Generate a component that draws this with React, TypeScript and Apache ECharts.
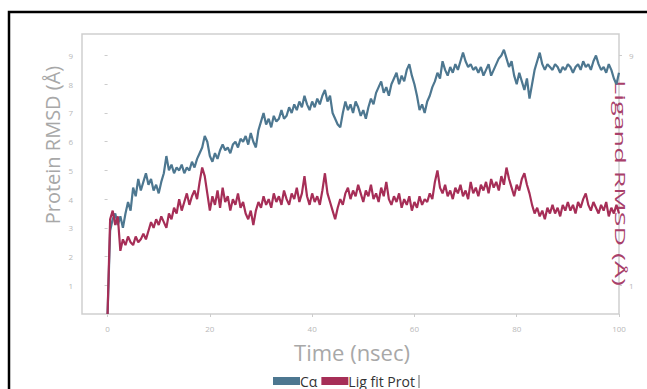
import React, { useEffect, useRef } from "react";
import * as echarts from "echarts";

const STEP_NS = 0.5;
const xTicks = [0, 20, 40, 60, 80, 100];
const leftTicks = [1, 2, 3, 4, 5, 6, 7, 8, 9];
const rightTicks = [1, 9];
const seriesNames = ["Cα", "Lig fit Prot"];

const caRmsd = [
  0, 2.9, 3.3, 3.5, 3.1, 3.4, 3.0, 3.5, 3.9, 3.6,
  4.4, 4.1, 4.7, 4.3, 4.6, 4.9, 4.5, 4.7, 4.3, 4.5,
  4.2, 4.6, 4.9, 5.5, 5.0, 5.2, 4.9, 5.1, 5.0, 5.2,
  4.9, 5.1, 5.0, 5.3, 5.1, 5.4, 5.6, 5.8, 6.2, 6.0,
  5.5, 5.3, 5.6, 5.4, 5.7, 5.9, 5.7, 5.8, 5.6, 5.9,
  6.0, 5.8, 6.1, 6.0, 6.2, 5.9, 6.3, 6.0, 5.8, 6.4,
  6.7, 7.0, 6.6, 6.8, 6.5, 6.9, 6.7, 6.8, 7.1, 6.8,
  6.9, 7.2, 7.0, 7.3, 7.1, 7.4, 7.2, 7.6, 7.3, 7.1,
  7.4, 7.2, 7.5, 7.3, 7.6, 7.8, 7.4, 7.6, 7.0, 6.8,
  6.6, 6.5, 7.0, 7.4, 7.1, 7.3, 7.0, 7.4, 7.2, 6.9,
  7.1, 6.8, 7.2, 7.5, 7.3, 7.7, 7.9, 8.1, 7.7, 7.9,
  7.6, 8.0, 8.2, 8.4, 8.0, 8.3, 8.1, 8.5, 8.7, 8.3,
  8.0, 7.6, 7.1, 7.3, 7.0, 7.4, 7.6, 7.9, 8.1, 8.4,
  8.2, 8.8, 8.5, 8.3, 8.6, 8.4, 8.7, 8.5, 8.8, 9.1,
  8.8, 8.6, 8.7, 8.5, 8.6, 8.4, 8.6, 8.3, 8.5, 8.7,
  8.3, 8.5, 8.7, 8.9, 9.0, 9.2, 8.9, 8.6, 8.8, 8.3,
  8.0, 8.4, 8.1, 7.8, 8.2, 7.5, 8.0, 8.5, 8.8, 9.1,
  8.7, 8.5, 8.7, 8.6, 8.5, 8.7, 8.6, 8.4, 8.6, 8.5,
  8.7, 8.6, 8.4, 8.6, 8.7, 8.5, 8.8, 8.6, 8.7, 8.5,
  8.8, 9.0, 8.7, 8.5, 8.6, 8.4, 8.7, 8.5, 8.2, 8.0,
  8.4,
];

const ligRmsd = [
  0, 3.3, 3.6, 3.1, 3.4, 2.2, 2.6, 2.4, 2.7, 2.5,
  2.4, 2.7, 2.5, 2.6, 2.8, 2.6, 2.9, 3.2, 3.0, 3.3,
  3.1, 3.4, 3.2, 3.0, 3.5, 3.3, 3.7, 3.5, 4.0, 3.6,
  3.9, 4.2, 3.8, 4.1, 4.3, 4.0, 4.6, 5.1, 4.8, 4.2,
  3.6, 4.1, 3.8, 4.3, 3.7, 4.4, 3.9, 4.1, 3.6, 4.0,
  3.8, 4.2, 3.7, 3.9, 3.5, 3.3, 3.6, 3.1, 3.6, 3.9,
  3.7, 4.1, 3.8, 4.0, 3.7, 4.2, 3.9, 4.1, 3.8, 4.3,
  4.0, 3.8, 4.2, 4.0, 4.4, 3.9, 4.2, 4.8, 4.1, 3.8,
  4.2, 3.9, 4.1, 3.8, 4.3, 4.9, 4.2, 3.9, 3.6, 3.3,
  3.7, 4.0, 3.8, 4.2, 4.4, 4.0, 4.3, 4.1, 4.5, 4.2,
  3.9, 4.3, 4.1, 4.5, 4.0, 4.2, 3.9, 4.4, 4.1, 4.6,
  4.0, 3.8, 4.1, 3.9, 4.2, 3.7, 4.0, 3.8, 4.1, 3.6,
  3.9, 3.7, 4.1, 3.8, 4.0, 3.9, 4.2, 4.0, 4.6, 5.0,
  4.4, 4.2, 4.5, 4.1, 4.3, 4.0, 4.4, 4.2, 4.5, 4.1,
  4.3, 4.0, 4.6, 4.2, 4.4, 4.1, 4.5, 4.3, 4.6, 4.2,
  4.7, 4.4, 4.6, 4.3, 4.8, 4.5, 5.1, 4.7, 4.4, 4.1,
  4.5, 4.3, 4.7, 4.9, 4.5, 4.2, 3.8, 3.5, 3.7, 3.4,
  3.6, 3.3, 3.7, 3.5, 3.8, 3.5, 3.7, 3.4, 3.8, 3.6,
  3.9, 3.6, 3.8, 3.5, 3.9, 3.7, 4.0, 4.2, 3.8, 3.6,
  3.9, 3.7, 3.5, 3.8, 3.6, 3.9, 3.4, 3.7, 3.5, 3.8,
  3.5,
];

const BLUE = "#4d7790";
const RED = "#a62e57";
const FONT = "Open Sans";

export default function App() {
  const ref = useRef<HTMLDivElement>(null);
  useEffect(() => {
    if (!ref.current) return;
    const chart = echarts.init(ref.current, null, { renderer: "svg" });
    const toPairs = (arr: number[]) => arr.map((v, i) => [i * STEP_NS, v]);
    const tickLabel = { color: "#b8b8b8", fontSize: 8, fontFamily: FONT };
    chart.setOption({
      animation: false,
      backgroundColor: "#ffffff",
      grid: {
        left: 82,
        right: 28,
        top: 34,
        bottom: 75,
        show: true,
        borderColor: "#cfcfcf",
        borderWidth: 1.5,
        backgroundColor: "transparent",
      },
      legend: {
        data: seriesNames,
        left: 273,
        top: 374,
        icon: "rect",
        itemWidth: 27,
        itemHeight: 8,
        itemGap: 4,
        padding: 0,
        textStyle: {
          color: "#333",
          fontSize: 14,
          lineHeight: 12,
          fontFamily: FONT,
          padding: [0, 0, 0, -5],
        },
      },
      xAxis: {
        type: "value",
        min: -5,
        max: 100,
        splitLine: { show: false },
        axisLine: { show: false },
        axisTick: { show: true, customValues: xTicks, length: 3, lineStyle: { color: "#cccccc" } },
        axisLabel: { ...tickLabel, margin: 10, customValues: xTicks },
      },
      yAxis: [
        {
          type: "value",
          min: 0,
          max: 9.75,
          splitLine: { show: false },
          axisLine: { show: false },
          axisTick: { show: true, customValues: leftTicks, length: 3, lineStyle: { color: "#cccccc" } },
          axisLabel: { ...tickLabel, margin: 9, customValues: leftTicks },
        },
        {
          type: "value",
          position: "right",
          min: 0,
          max: 9.75,
          splitLine: { show: false },
          axisLine: { show: false },
          axisTick: { show: true, customValues: rightTicks, length: 3, lineStyle: { color: "#cccccc" } },
          axisLabel: { ...tickLabel, margin: 10, customValues: rightTicks },
        },
      ],
      series: [
        {
          name: seriesNames[0],
          type: "line",
          yAxisIndex: 0,
          data: toPairs(caRmsd),
          showSymbol: false,
          lineStyle: { color: BLUE, width: 2.2 },
          itemStyle: { color: BLUE },
        },
        {
          name: seriesNames[1],
          type: "line",
          yAxisIndex: 1,
          data: toPairs(ligRmsd),
          showSymbol: false,
          lineStyle: { color: RED, width: 2.2 },
          itemStyle: { color: RED },
        },
      ],
      graphic: [
        {
          type: "rect",
          shape: { x: 9, y: 12, width: 800, height: 600 },
          style: { fill: "none", stroke: "#000", lineWidth: 2.5 },
          silent: true,
        },
        {
          type: "line",
          shape: { x1: 419, y1: 375, x2: 419, y2: 388 },
          style: { stroke: "#666", lineWidth: 1 },
          silent: true,
        },
        {
          type: "text",
          x: 52,
          y: 145,
          rotation: Math.PI / 2,
          style: {
            text: "Protein RMSD (Å)",
            fill: "#a8a8a8",
            fontSize: 20,
            fontFamily: FONT,
            align: "center",
            verticalAlign: "middle",
          },
        },
        {
          type: "text",
          x: 621,
          y: 183,
          rotation: -Math.PI / 2,
          scaleX: 1.8,
          style: {
            text: "Ligand RMSD (Å)",
            fill: "#a8406a",
            fontSize: 15,
            fontFamily: FONT,
            align: "center",
            verticalAlign: "middle",
          },
        },
        {
          type: "text",
          x: 352,
          y: 352,
          style: {
            text: "Time (nsec)",
            fill: "#a8a8a8",
            fontSize: 22,
            fontFamily: FONT,
            align: "center",
            verticalAlign: "middle",
          },
        },
      ],
    });
    return () => chart.dispose();
  }, []);
  return (
    <div
      ref={ref}
      style={{ position: "absolute", left: 0, top: 0, width: 647, height: 389, background: "#fff" }}
    />
  );
}
